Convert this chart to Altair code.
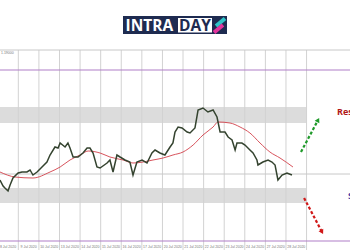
import altair as alt
import pandas as pd

# ---- data ----
price_day = [-0.89, -0.74, -0.65, -0.50, -0.40, -0.26, -0.01, 0.18, 0.42, 0.57, 0.71, 0.91,
             1.15, 1.39, 1.54, 1.78, 1.93, 2.03, 2.27, 2.41, 2.51, 2.66, 2.90, 3.14, 3.34,
             3.48, 3.63, 3.82, 3.97, 4.31, 4.45, 4.60, 4.79, 4.94, 5.18, 5.42, 5.57, 5.76,
             6.01, 6.25, 6.49, 6.64, 6.88, 7.12, 7.37, 7.51, 7.61, 7.76, 7.95, 8.20, 8.34,
             8.58, 8.73, 8.97, 9.21, 9.46, 9.65, 9.80, 10.04, 10.19, 10.38, 10.53, 10.62,
             10.86, 11.01, 11.25, 11.40, 11.59, 11.64, 11.88, 12.13, 12.32, 12.47, 12.61,
             12.81, 13.05, 13.29]
price_close = [1.1770, 1.1764, 1.1762, 1.1759, 1.1765, 1.1772, 1.1777, 1.1778, 1.1778, 1.1780,
               1.1775, 1.1778, 1.1783, 1.1788, 1.1795, 1.1803, 1.1802, 1.1807, 1.1803, 1.1807,
               1.1802, 1.1793, 1.1793, 1.1797, 1.1802, 1.1802, 1.1797, 1.1783, 1.1782, 1.1787,
               1.1790, 1.1778, 1.1795, 1.1793, 1.1790, 1.1788, 1.1775, 1.1788, 1.1790, 1.1787,
               1.1797, 1.1800, 1.1797, 1.1795, 1.1803, 1.1807, 1.1818, 1.1823, 1.1822, 1.1818,
               1.1817, 1.1822, 1.1840, 1.1842, 1.1838, 1.1840, 1.1833, 1.1818, 1.1818, 1.1813,
               1.1810, 1.1800, 1.1807, 1.1807, 1.1805, 1.1800, 1.1797, 1.1790, 1.1785, 1.1788,
               1.1790, 1.1788, 1.1785, 1.1770, 1.1775, 1.1777, 1.1775]
ma_day = [-0.89, -0.16, 0.71, 1.54, 2.03, 2.51, 3.00, 3.39, 3.97, 4.45, 5.09, 5.57, 6.06,
          6.54, 7.03, 7.51, 8.00, 8.49, 8.97, 9.46, 9.70, 10.28, 10.77, 11.25, 11.74, 12.22,
          12.71, 13.34]
ma_value = [1.1778, 1.1773, 1.1772, 1.1778, 1.1783, 1.1790, 1.1795, 1.1799, 1.1797, 1.1793,
            1.1790, 1.1787, 1.1788, 1.1790, 1.1792, 1.1795, 1.1798, 1.1805, 1.1815, 1.1823,
            1.1828, 1.1827, 1.1823, 1.1817, 1.1807, 1.1798, 1.1792, 1.1783]
grid_days = list(range(15))
date_labels = ["8 Jul 2020", "9 Jul 2020", "10 Jul 2020", "13 Jul 2020", "14 Jul 2020",
               "15 Jul 2020", "16 Jul 2020", "17 Jul 2020", "20 Jul 2020", "21 Jul 2020",
               "22 Jul 2020", "23 Jul 2020", "24 Jul 2020", "27 Jul 2020", "28 Jul 2020"]
resistance_zone = [1.1827, 1.1843]
support_zone = [1.1747, 1.1762]
purple_levels = [1.1880, 1.1709]
grey_levels = [1.1900, 1.1776]
up_arrow_day = [13.73, 14.56]
up_arrow_price = [1.1798, 1.1830]
down_arrow_day = [13.88, 14.75]
down_arrow_price = [1.1752, 1.1718]
top_price_label = "1.19000"

X = alt.Scale(domain=[-0.89, 16.11], nice=False, zero=False)
Y = alt.Scale(domain=[1.1700, 1.1950], nice=False, zero=False)

def xe(f):
    return alt.X(f, type="quantitative", scale=X, axis=None)

def ye(f):
    return alt.Y(f, type="quantitative", scale=Y, axis=None)

one = pd.DataFrame({"a": [0]})

zones = pd.DataFrame({
    "x0": [-0.89, -0.89], "x1": [14, 14],
    "lo": [resistance_zone[0], support_zone[0]],
    "hi": [resistance_zone[1], support_zone[1]],
})
band_layer = alt.Chart(zones).mark_rect(color="#dcdcdc").encode(
    x=xe("x0"), x2="x1", y=ye("lo"), y2="hi")

vgrid = alt.Chart(pd.DataFrame({"d": grid_days, "top": 1.1900, "bot": 1.1700})).mark_rule(
    color="#d2d2d2", strokeWidth=1).encode(x=xe("d"), y=ye("top"), y2="bot")

hgrid = alt.Chart(pd.DataFrame({"p": grey_levels})).mark_rule(
    color="#c8c8c8", strokeWidth=1).encode(y=ye("p"))

purple = alt.Chart(pd.DataFrame({"p": purple_levels})).mark_rule(
    color="#b07fc8", strokeWidth=1.2).encode(y=ye("p"))

price = alt.Chart(pd.DataFrame({"d": price_day, "p": price_close})).mark_line(
    color="#34432f", strokeWidth=1.5).encode(x=xe("d"), y=ye("p"), order="d:Q")

ma = alt.Chart(pd.DataFrame({"d": ma_day, "p": ma_value})).mark_line(
    color="#d2404a", strokeWidth=0.9, interpolate="monotone").encode(
    x=xe("d"), y=ye("p"), order="d:Q")

up_df = pd.DataFrame({"d": up_arrow_day, "p": up_arrow_price})
dn_df = pd.DataFrame({"d": down_arrow_day, "p": down_arrow_price})
up_line = alt.Chart(up_df).mark_line(color="#1f9a2a", strokeWidth=2.2, strokeDash=[3, 2]).encode(
    x=xe("d"), y=ye("p"))
dn_line = alt.Chart(dn_df).mark_line(color="#d01818", strokeWidth=2.2, strokeDash=[3, 2]).encode(
    x=xe("d"), y=ye("p"))
up_head = alt.Chart(up_df.tail(1)).mark_point(
    shape="triangle-up", filled=True, size=28, angle=28, color="#1f9a2a", opacity=1).encode(
    x=xe("d"), y=ye("p"))
dn_head = alt.Chart(dn_df.tail(1)).mark_point(
    shape="triangle-up", filled=True, size=28, angle=152, color="#d01818", opacity=1).encode(
    x=xe("d"), y=ye("p"))

res_txt = alt.Chart(one).mark_text(text="Resistance", color="#b01818", fontWeight="bold",
                                   fontSize=9, align="left", baseline="middle",
                                   font="Open Sans").encode(
    x=alt.value(337), y=alt.value(112))
sup_txt = alt.Chart(one).mark_text(text="Support", color="#3a3aa8", fontWeight="bold",
                                   fontSize=9, align="left", baseline="middle",
                                   font="Open Sans").encode(
    x=alt.value(348), y=alt.value(196))

dates = alt.Chart(pd.DataFrame({"d": [g - 0.5 for g in grid_days], "lab": date_labels,
                                "p": 1.1703})).mark_text(
    fontSize=3.5, color="#777777", align="center", baseline="middle").encode(
    x=xe("d"), y=ye("p"), text="lab:N")

top_lbl = alt.Chart(one).mark_text(text=top_price_label, fontSize=3.5, color="#777777",
                                   align="left", baseline="top").encode(
    x=alt.value(1), y=alt.value(51))

# logo
logo_box = alt.Chart(one).mark_rect(color="#1e2b50").encode(
    x=alt.value(123), x2=alt.value(227), y=alt.value(16), y2=alt.value(34))
logo_white = alt.Chart(one).mark_rect(color="#ffffff").encode(
    x=alt.value(178), x2=alt.value(212), y=alt.value(18), y2=alt.value(32.5))
logo_intra = alt.Chart(one).mark_text(text="INTRA", color="#ffffff", fontWeight="bold",
                                      fontSize=15.5, font="Open Sans", align="left",
                                      baseline="middle").encode(
    x=alt.value(125.5), y=alt.value(25.5))
logo_day = alt.Chart(one).mark_text(text="DAY", color="#1e2b50", fontWeight="bold",
                                    fontSize=15.5, font="Open Sans", align="left",
                                    baseline="middle").encode(
    x=alt.value(179), y=alt.value(25.5))
logo_cyan = alt.Chart(one).mark_rule(color="#2ec4c8", strokeWidth=4).encode(
    x=alt.value(216), x2=alt.value(225), y=alt.value(26), y2=alt.value(18.5))
logo_mag = alt.Chart(one).mark_rule(color="#e2349c", strokeWidth=4).encode(
    x=alt.value(214), x2=alt.value(223), y=alt.value(32.5), y2=alt.value(25))

chart = alt.layer(
    band_layer, vgrid, hgrid, purple, ma, price,
    up_line, dn_line, up_head, dn_head, res_txt, sup_txt, dates, top_lbl,
    logo_box, logo_white, logo_intra, logo_day, logo_cyan, logo_mag,
).properties(
    width=350, height=250, autosize="none", padding=0, background="#ffffff"
).configure_view(stroke=None)

chart.save("out.html", embed_options={"renderer": "svg", "actions": False})
